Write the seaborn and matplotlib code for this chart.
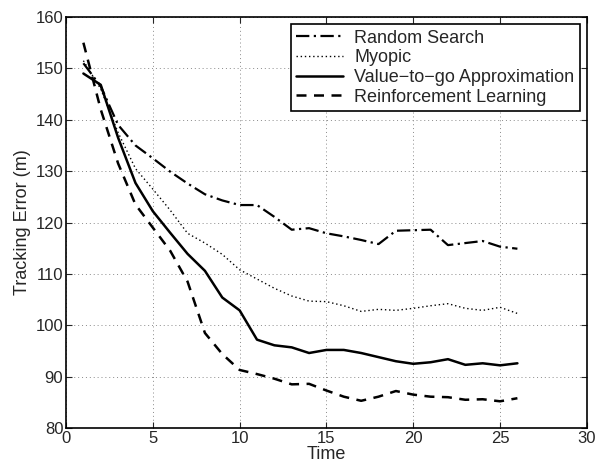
import numpy as np
import pandas as pd
import matplotlib
matplotlib.use("Agg")
import matplotlib.pyplot as plt
import seaborn as sns

# values
time = list(range(1, 27))
random_search = [151.0, 146.5, 139.0, 135.0, 132.5, 129.9, 127.6, 125.5, 124.3, 123.4,
                 123.4, 121.1, 118.6, 118.9, 117.9, 117.3, 116.6, 115.8, 118.4, 118.5,
                 118.6, 115.6, 116.0, 116.4, 115.3, 114.9]
myopic = [151.5, 146.0, 137.5, 130.5, 126.5, 122.4, 117.9, 116.0, 113.8, 110.8,
          109.0, 107.2, 105.7, 104.7, 104.6, 103.8, 102.7, 103.1, 102.9, 103.3,
          103.8, 104.2, 103.3, 102.9, 103.5, 102.3]
value_to_go = [149.0, 146.8, 136.5, 127.7, 122.2, 118.0, 113.9, 110.6, 105.4, 102.9,
               97.2, 96.1, 95.7, 94.6, 95.2, 95.2, 94.6, 93.8, 93.0, 92.5,
               92.8, 93.4, 92.3, 92.6, 92.2, 92.6]
reinforcement = [155.0, 142.0, 131.5, 123.5, 119.0, 114.5, 108.5, 98.5, 94.4, 91.3,
                 90.5, 89.6, 88.5, 88.6, 87.3, 86.1, 85.3, 86.1, 87.2, 86.5,
                 86.1, 86.0, 85.5, 85.6, 85.2, 85.8]

labels = ["Random Search", "Myopic", "Value\u2212to\u2212go Approximation", "Reinforcement Learning"]
series = [random_search, myopic, value_to_go, reinforcement]

df = pd.concat([pd.DataFrame({"Time": time, "err": s, "method": lab})
                for lab, s in zip(labels, series)], ignore_index=True)

sns.set_style("ticks")
plt.rcParams["font.family"] = ["Liberation Sans", "DejaVu Sans"]
plt.rcParams["xtick.direction"] = "in"
plt.rcParams["ytick.direction"] = "in"

fig = plt.figure(figsize=(5.97, 4.66), dpi=100)
ax = fig.add_axes([0.1106, 0.0815, 0.8724, 0.882])

dashes = {labels[0]: (6, 2, 1, 2), labels[1]: (1, 2),
          labels[2]: "", labels[3]: (4, 3)}
widths = {labels[0]: 1.6, labels[1]: 1.0, labels[2]: 1.8, labels[3]: 1.8}

sns.lineplot(data=df, x="Time", y="err", hue="method", style="method",
             palette=["black"] * 4, dashes=dashes, ax=ax)
for line, lab in zip(ax.get_lines(), labels):
    line.set_linewidth(widths[lab])

ax.set_xlim(0, 30)
ax.set_ylim(80, 160)
ax.set_xticks(np.arange(0, 31, 5))
ax.set_yticks(np.arange(80, 161, 10))
ax.grid(True, linestyle=(0, (1, 3)), color="#8a8a8a", linewidth=0.7)
for sp in ax.spines.values():
    sp.set_visible(True)
    sp.set_linewidth(1.2)
    sp.set_color("black")
ax.tick_params(labelsize=12, top=True, right=True, length=4, pad=2)
ax.set_xlabel("Time", fontsize=13, labelpad=0)
ax.set_ylabel("Tracking Error (m)", fontsize=13, labelpad=3)

leg = ax.legend(loc="upper right", fontsize=13, frameon=True, fancybox=False,
                edgecolor="black", framealpha=1, borderpad=0.3, labelspacing=0.15,
                handlelength=2.6, handletextpad=0.6, borderaxespad=0.4)
leg.get_frame().set_linewidth(1.2)
for h, lab in zip(leg.get_lines(), labels):
    h.set_linewidth(widths[lab])

fig.savefig("out.png", dpi=100)
